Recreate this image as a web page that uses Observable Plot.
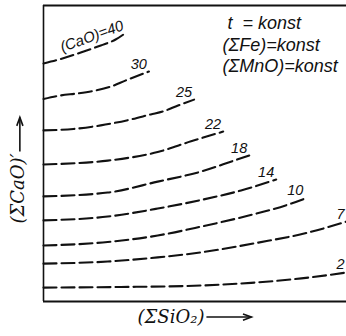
<!DOCTYPE html>
<html><head><meta charset="utf-8">
<script src="https://cdn.jsdelivr.net/npm/d3@7"></script>
<script src="https://cdn.jsdelivr.net/npm/@observablehq/plot@0.6"></script>
<style>body{margin:0;background:#fff} svg{display:block}</style>
</head><body><div id="chart"></div>
<script>
// CaO levels of the isolines
const levels = [40, 30, 25, 22, 18, 14, 10, 7, 2];
// (ΣSiO2) and (ΣCaO)' readings per isoline (relative units 0–100)
const sio2_40 = [0, 5.6, 12.3, 18.9, 23.8, 26.8];
const cao_40  = [80.4, 81.9, 84.1, 86.5, 88.5, 90.5];
const sio2_30 = [0, 5.6, 11.3, 17.2, 22.2, 27.2, 34.8];
const cao_30  = [68.4, 69.6, 70.3, 71.3, 72.6, 74.7, 77.7];
const sio2_25 = [0, 9.9, 18.9, 28.8, 35.4, 39.4, 44.4, 49.7];
const cao_25  = [57.8, 58.3, 59.5, 61.5, 63.2, 64.2, 66.2, 68.2];
const sio2_22 = [0, 21.2, 37.7, 48.7, 59.3];
const cao_22  = [46.3, 47.6, 50.5, 54.1, 57.4];
const sio2_18 = [0, 21.2, 37.7, 52.0, 62.9, 67.9];
const cao_18  = [35.5, 36.8, 40.5, 43.9, 47.6, 49.3];
const sio2_14 = [0, 21.2, 37.7, 52.0, 65.2, 76.8];
const cao_14  = [27.4, 28.7, 31.4, 34.3, 37.5, 41.2];
const sio2_10 = [0, 21.2, 37.7, 52.0, 65.2, 81.8, 86.4];
const cao_10  = [18.9, 20.1, 22.3, 25.3, 28.4, 33.1, 34.8];
const sio2_7  = [0, 21.2, 37.7, 52.0, 70.9, 87.4, 100];
const cao_7   = [12.8, 13.5, 14.9, 16.6, 19.9, 23.3, 27.0];
const sio2_2  = [0, 25.5, 52.0, 68.5, 85.1, 100];
const cao_2   = [4.7, 4.9, 5.4, 6.3, 7.8, 9.8];

const curveLabels = ["(CaO)=40", "30", "25", "22", "18", "14", "10", "7", "2"];
const notes = ["\u00a0t\u00a0\u00a0=\u00a0konst", "(ΣFe)=konst", "(ΣMnO)=konst"];
const xTitle = "(ΣSiO₂)";
const yTitle = "(ΣCaO)′";

const series = [
  [sio2_40, cao_40], [sio2_30, cao_30], [sio2_25, cao_25], [sio2_22, cao_22],
  [sio2_18, cao_18], [sio2_14, cao_14], [sio2_10, cao_10], [sio2_7, cao_7], [sio2_2, cao_2]
];
const rows = levels.flatMap((lv, i) =>
  series[i][0].map((x, j) => ({level: lv, sio2: x, cao: series[i][1][j]})));
const ends = levels.map((lv, i) => {
  const xs = series[i][0], ys = series[i][1];
  return {level: lv, label: curveLabels[i], sio2: xs[xs.length - 1], cao: ys[ys.length - 1]};
});

const ink = "#111";
const sans = "Liberation Sans";
const serif = "DejaVu Serif";

const chart = Plot.plot({
  width: 346, height: 336,
  marginLeft: 43, marginRight: 0, marginTop: 5, marginBottom: 35,
  x: {domain: [0, 100], axis: null},
  y: {domain: [0, 100], axis: null},
  style: {background: "#fff", color: ink},
  marks: [
    Plot.ruleX([0], {stroke: ink, strokeWidth: 1.6}),
    Plot.ruleY([0], {stroke: ink, strokeWidth: 2}),
    Plot.ruleY([100], {stroke: ink, strokeWidth: 2}),
    Plot.line(rows, {x: "sio2", y: "cao", z: "level", curve: "monotone-x",
      stroke: ink, strokeWidth: 2.1, strokeDasharray: "13,5"}),
    Plot.text(ends.filter(d => d.level !== 40), {x: "sio2", y: "cao", text: "label",
      textAnchor: "end", lineAnchor: "bottom", dy: -3, dx: -2,
      fontSize: 14.5, fontStyle: "italic", fontFamily: sans, fill: ink}),
    Plot.text(ends.filter(d => d.level === 40), {x: "sio2", y: "cao", text: "label",
      textAnchor: "end", lineAnchor: "bottom", dy: -4, rotate: -20,
      fontSize: 15, fontStyle: "italic", fontFamily: sans, fill: ink}),
    Plot.text([notes.join("\n")], {frameAnchor: "top-right", textAnchor: "start",
      lineAnchor: "top", dx: -124, dy: 9, lineHeight: 1.17,
      fontSize: 18, fontStyle: "italic", fontFamily: sans, fill: ink}),
    Plot.text([xTitle], {frameAnchor: "bottom", textAnchor: "middle", dx: -24, dy: 21,
      fontSize: 18, fontStyle: "italic", fontFamily: serif, fill: ink}),
    Plot.text([yTitle], {frameAnchor: "left", textAnchor: "middle", rotate: -90,
      fontSize: 18, fontStyle: "italic", fontFamily: serif, fill: ink})
  ]
});
document.getElementById("chart").appendChild(chart);

const svg = d3.select(chart);
const texts = Array.from(chart.querySelectorAll("text"));
const xt = texts.find(t => t.textContent === xTitle);
const yt = texts.find(t => t.textContent === yTitle);
// place the rotated y title beside the frame, centred on the lower part of the axis
if (yt) {
  const fx = chart.scale("x").range[0], fy = chart.scale("y").range;
  yt.setAttribute("text-anchor", "middle");
  yt.setAttribute("transform", `translate(${fx - 25},${(fy[0] + fy[1]) / 2 + 35}) rotate(-90)`);
}
const sRect = chart.getBoundingClientRect();
function arrow(x1, y1, x2, y2) {
  const g = svg.append("g").attr("stroke", ink).attr("fill", "none").attr("stroke-width", 1.6);
  g.append("line").attr("x1", x1).attr("y1", y1).attr("x2", x2).attr("y2", y2);
  const a = Math.atan2(y2 - y1, x2 - x1), L = 9, W = 0.35;
  g.append("path").attr("d",
    `M${x2 - L * Math.cos(a - W)},${y2 - L * Math.sin(a - W)}L${x2},${y2}L${x2 - L * Math.cos(a + W)},${y2 - L * Math.sin(a + W)}`);
}
if (xt) {
  const r = xt.getBoundingClientRect();
  const y = r.top - sRect.top + r.height * 0.55;
  arrow(r.right - sRect.left + 2, y, r.right - sRect.left + 47, y);
}
if (yt) {
  const r = yt.getBoundingClientRect();
  const x = r.left - sRect.left + r.width * 0.6;
  arrow(x, r.top - sRect.top - 2, x, r.top - sRect.top - 36);
}
</script></body></html>
